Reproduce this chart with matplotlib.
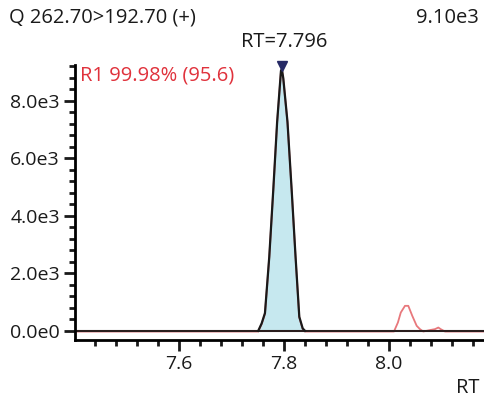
"""Chromatogram of Q 262.70>192.70 (+)."""

import numpy as np
import matplotlib
matplotlib.use("Agg")
import matplotlib.pyplot as plt
from matplotlib.ticker import MultipleLocator, FormatStrFormatter

plt.rcParams['font.family'] = ['Open Sans', 'DejaVu Sans']

# raw trace (red)
rt_trace = [7.40, 7.751, 7.7575, 7.7638, 7.772, 7.7796, 7.787, 7.7943, 7.796,
            7.7987, 7.8067, 7.8147, 7.822, 7.8292, 7.8357, 7.840,
            8.0095, 8.017, 8.0225, 8.0305, 8.0368, 8.0444, 8.0528, 8.059,
            8.0653, 8.078, 8.0876, 8.094, 8.0985, 8.1067, 8.181]
int_trace = [0, 0, 257, 616, 2574, 4894, 7270, 9050, 9100,
             8790, 7270, 4894, 2600, 487, 83, 0,
             0, 313, 661, 894, 894, 546, 198, 83,
             0, 50, 83, 139, 83, 0, 0]

# integrated peak (black outline + fill)
rt_peak = [7.751, 7.7575, 7.7638, 7.772, 7.7796, 7.787, 7.7943, 7.796,
           7.7987, 7.8067, 7.8147, 7.822, 7.8292, 7.8357, 7.840]
int_peak = [0, 257, 616, 2574, 4894, 7270, 9050, 9100,
            8790, 7270, 4894, 2600, 487, 83, 0]

apex_rt = 7.796
apex_int = 9100
title = "Q 262.70>192.70 (+)"
max_label = "9.10e3"
peak_label = "R1 99.98% (95.6)"

fig = plt.figure(figsize=(4.84, 3.99), dpi=100)
ax = fig.add_axes([75 / 484, 59 / 399, 409 / 484, 275 / 399])

ax.fill_between(rt_peak, 0, int_peak, color='#c6e8ef', lw=0)
ax.plot(rt_trace, np.array(int_trace) - 25, color='#e8787c', lw=1.3)
ax.axhline(0, color='#2a1e1e', lw=1.5)
ax.plot(rt_peak, int_peak, color='#1a1a1a', lw=1.6)
ax.plot([apex_rt], [apex_int + 120], marker='v', color='#262a66',
        markersize=7, clip_on=False)

ax.set_xlim(7.402, 8.181)
ax.set_ylim(-320, 9250)
ax.xaxis.set_major_locator(MultipleLocator(0.2))
ax.xaxis.set_minor_locator(MultipleLocator(0.04))
ax.yaxis.set_major_locator(MultipleLocator(2000))
ax.yaxis.set_minor_locator(MultipleLocator(400))
ax.xaxis.set_major_formatter(FormatStrFormatter('%.1f'))
ax.yaxis.set_major_formatter(plt.FuncFormatter(
    lambda v, p: "0.0e0" if v == 0 else "%.1fe3" % (v / 1000)))

for side in ['top', 'right']:
    ax.spines[side].set_visible(False)
for side in ['left', 'bottom']:
    ax.spines[side].set_linewidth(2)
ax.tick_params(which='major', length=8, width=2, labelsize=14,
               colors='#1a1a1a', pad=3)
ax.tick_params(which='minor', length=4, width=2, colors='#1a1a1a')

fs = 14.5
fig.text(9 / 484, 1 - 18 / 399, title, fontsize=fs, va='center',
         ha='left', color='#1a1a1a')
fig.text(479 / 484, 1 - 18 / 399, max_label, fontsize=fs, va='center',
         ha='right', color='#1a1a1a')
fig.text(284 / 484, 1 - 42 / 399, "RT=%.3f" % apex_rt, fontsize=fs,
         va='center', ha='center', color='#1a1a1a')
fig.text(80 / 484, 1 - 76 / 399, peak_label, fontsize=fs, va='center',
         ha='left', color='#e0323c')
fig.text(480 / 484, 1 - 388 / 399, "RT", fontsize=fs, va='center',
         ha='right', color='#1a1a1a')

fig.savefig("out.png", dpi=100)
